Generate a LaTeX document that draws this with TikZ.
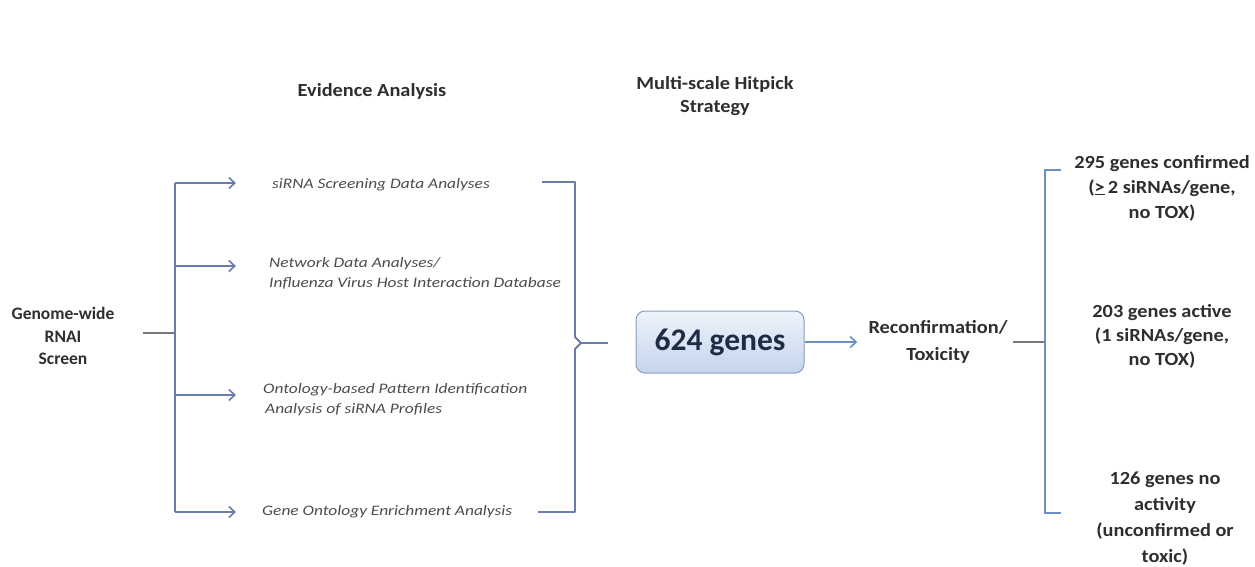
\documentclass[tikz,border=0pt]{standalone}
\usepackage{fontspec}
\setmainfont{Carlito}
\newfontfamily\bfam{Carlito}[FakeStretch=1.1]
\newfontfamily\ifam{Carlito}[FakeStretch=1.2]
\usetikzlibrary{arrows.meta}
\definecolor{conn}{HTML}{6A7DAA}
\definecolor{connblue}{HTML}{6A90C6}
\definecolor{stubgray}{HTML}{76787E}
\definecolor{txt}{HTML}{2E2E2E}
\definecolor{boxtop}{HTML}{EEF3FA}
\definecolor{boxbot}{HTML}{C3D4EC}
\definecolor{boxdraw}{HTML}{8C9DBD}
\definecolor{boxtxt}{HTML}{1E2C48}
\begin{document}
\begin{tikzpicture}[x=1pt,y=-1pt,
  lbl/.style={font=\bfam\bfseries\fontsize{18.5}{24}\selectfont, text=txt, align=center, inner sep=0pt},
  itl/.style={font=\ifam\itshape\fontsize{14.5}{20}\selectfont, text=txt!85, anchor=west, align=left, inner sep=0pt},
  connline/.style={draw=conn, line width=1.8pt},
  arr/.style={draw=conn, line width=1.8pt, -{Straight Barb[length=6pt,width=11pt,line width=1.6pt]}},
  genebox/.style={draw=boxdraw, line width=1pt, rounded corners=9pt, top color=boxtop, bottom color=boxbot,
     minimum width=168pt, minimum height=62pt, font=\bfseries\fontsize{31.5}{34}\selectfont, text=boxtxt}
]
\useasboundingbox[fill=white] (0,0) rectangle (1255,566);

% headers
\node[lbl] (hEv) at (372,91) {Evidence Analysis};
\node[lbl, font=\bfam\bfseries\fontsize{18.5}{23}\selectfont] (hMs) at (715,96) {Multi-scale Hitpick\\Strategy};

% left source
\node[lbl, font=\bfseries\fontsize{17.5}{22.5}\selectfont] (genome) at (63,336) {Genome-wide\\RNAI\\Screen};
\coordinate (stubA) at (143,333);
\coordinate (vMid) at (175,333);
\coordinate (vTop) at (175,183);
\coordinate (vBot) at (175,512);
\coordinate (v2) at (175,266);
\coordinate (v3) at (175,395);
\draw[draw=stubgray, line width=1.5pt] (stubA) -- (vMid);
\draw[connline] (vTop) -- (vBot);

% evidence items
\node[itl] (t1) at (272,185) {siRNA Screening Data Analyses};
\node[itl] (t2) at (269,273) {Network Data Analyses/\\Influenza Virus Host Interaction Database};
\node[itl] (t3) at (263,400) {Ontology-based Pattern Identification\\\hspace*{2pt}Analysis of siRNA Profiles};
\node[itl] (t4) at (262,512) {Gene Ontology Enrichment Analysis};

\coordinate (e1) at (236,183);
\coordinate (e2) at (236,266);
\coordinate (e3) at (236,395);
\coordinate (e4) at (236,512);
\draw[arr] (vTop) -- (e1);
\draw[arr] (v2) -- (e2);
\draw[arr] (v3) -- (e3);
\draw[arr] (vBot) -- (e4);

% right brace of evidence
\coordinate (bTopL) at (542,182);
\coordinate (bBotL) at (538,512);
\coordinate (bTip) at (581,343);
\coordinate (bOut) at (608,343);
\draw[connline, line join=round] (bTopL) -- (575,182) -- (575,337) -- (bTip) -- (575,349) -- (575,512) -- (bBotL);
\draw[connline] (bTip) -- (bOut);

% central box
\node[genebox] (genes) at (720,342) {624 genes};

% reconfirmation
\node[lbl, font=\bfam\bfseries\fontsize{18.5}{27}\selectfont] (reconf) at (938,342) {Reconfirmation/\\Toxicity};
\draw[draw=connblue, line width=1.8pt, -{Straight Barb[length=6pt,width=11pt,line width=1.6pt]}, shorten >=11pt] (genes.east) -- (reconf.west);

\coordinate (rStub) at (1013,342);
\coordinate (rMid) at (1045,342);
\coordinate (rTop) at (1045,170);
\coordinate (rBot) at (1045,513);
\coordinate (rTopE) at (1061,170);
\coordinate (rBotE) at (1061,513);
\draw[draw=stubgray, line width=1.5pt] (rStub) -- (rMid);
\draw[draw=connblue, line width=1.8pt] (rTopE) -- (rTop) -- (rBot) -- (rBotE);

% outcomes
\node[lbl, font=\bfam\bfseries\fontsize{18.5}{25}\selectfont] (o1) at (1162,188) {295 genes confirmed\\(\underline{>}\,2 siRNAs/gene,\\no TOX)};
\node[lbl] (o2) at (1162,336) {203 genes active\\(1 siRNAs/gene,\\no TOX)};
\node[lbl, font=\bfam\bfseries\fontsize{18.5}{26}\selectfont] (o3) at (1165,519) {126 genes no\\activity\\(unconfirmed or\\toxic)};
\end{tikzpicture}
\end{document}
